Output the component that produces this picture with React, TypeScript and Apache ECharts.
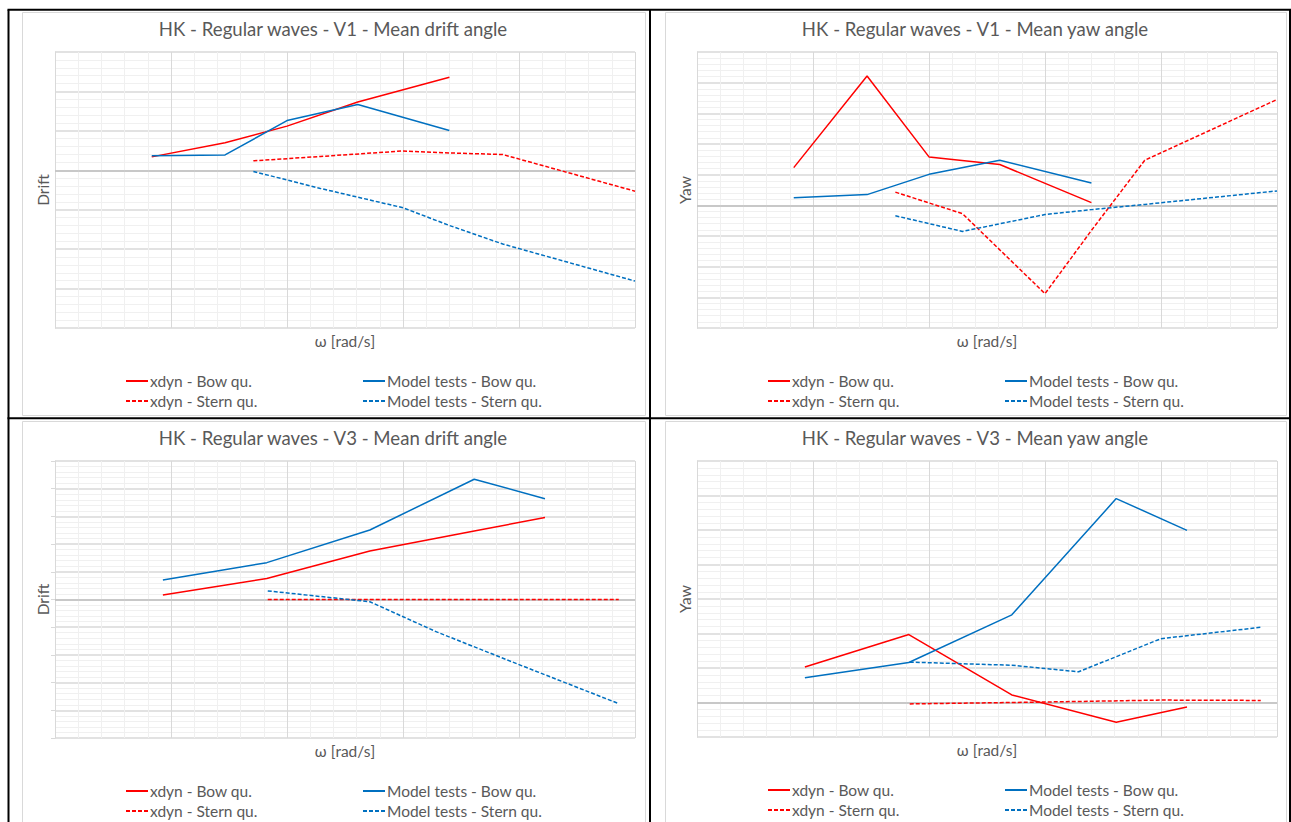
import React, { useEffect, useRef } from "react";
import * as echarts from "echarts";

const FONT = "Lato, 'Noto Sans', sans-serif";
const TEXT = "#595959";
const RED = "#FF0000";
const BLUE = "#0070C0";

const SERIES_NAMES = [
  "xdyn - Bow qu.",
  "Model tests - Bow qu.",
  "xdyn - Stern qu.",
  "Model tests - Stern qu.",
];

// Wave frequencies [rad/s]
const v1BowOmega = [0.417, 0.733, 1.0, 1.305, 1.7];
const v1SternOmega = [0.855, 1.144, 1.5, 1.7, 1.93, 2.5];
const v3BowOmega = [0.465, 0.913, 1.357, 1.807, 2.112];
const v3SternOmega = [0.917, 1.357, 1.645, 2.0, 2.43];

// V1 - mean drift angle [deg]
const v1DriftXdynBow = [0.34, 0.7, 1.12, 1.73, 2.36];
const v1DriftModelBow = [0.37, 0.39, 1.26, 1.67, 1.01];
const v1DriftXdynStern = [0.24, 0.35, 0.49, 0.44, 0.4, -0.53];
const v1DriftModelStern = [-0.03, -0.46, -0.95, -1.4, -1.87, -2.81];

// V1 - mean yaw angle [deg]
const v1YawXdynBow = [1.23, 4.22, 1.58, 1.33, 0.09];
const v1YawModelBow = [0.25, 0.35, 1.01, 1.47, 0.73];
const v1YawXdynStern = [0.43, -0.27, -2.88, -0.82, 1.47, 3.45];
const v1YawModelStern = [-0.34, -0.85, -0.3, -0.14, 0.03, 0.47];

// V3 - mean drift angle [deg]
const v3DriftXdynBow = [0.16, 0.76, 1.75, 2.47, 2.96];
const v3DriftModelBow = [0.7, 1.33, 2.51, 4.34, 3.64];
const v3DriftXdynStern = [0.0, 0.0, 0.0, 0.0, 0.0];
const v3DriftModelStern = [0.31, -0.08, -1.17, -2.35, -3.76];

// V3 - mean yaw angle [deg]
const v3YawXdynBow = [1.03, 1.97, 0.22, -0.57, -0.13];
const v3YawModelBow = [0.72, 1.16, 2.54, 5.91, 4.99];
const v3YawXdynStern = [-0.04, 0.0, 0.03, 0.07, 0.06];
const v3YawModelStern = [1.17, 1.08, 0.89, 1.85, 2.18];

const zip = (xs: number[], ys: number[]) => xs.map((x, i) => [x, ys[i]]);

type Panel = {
  title: string;
  yName: string;
  yMin: number;
  yMax: number;
  grid: { left: number; top: number; width: number; height: number };
  yTicks: boolean;
  legendTop: number;
  legendLeft: [number, number];
  bow: number[];
  stern: number[];
  values: [number[], number[], number[], number[]];
};

const panels: Panel[] = [
  {
    title: "HK - Regular waves - V1 - Mean drift angle",
    yName: "Drift",
    yMin: -4,
    yMax: 3,
    grid: { left: 55, top: 52, width: 580, height: 276 },
    yTicks: false,
    legendTop: 373,
    legendLeft: [125, 362],
    bow: v1BowOmega,
    stern: v1SternOmega,
    values: [v1DriftXdynBow, v1DriftModelBow, v1DriftXdynStern, v1DriftModelStern],
  },
  {
    title: "HK - Regular waves - V1 - Mean yaw angle",
    yName: "Yaw",
    yMin: -4,
    yMax: 5,
    grid: { left: 697, top: 52, width: 580, height: 276 },
    yTicks: false,
    legendTop: 373,
    legendLeft: [767, 1004],
    bow: v1BowOmega,
    stern: v1SternOmega,
    values: [v1YawXdynBow, v1YawModelBow, v1YawXdynStern, v1YawModelStern],
  },
  {
    title: "HK - Regular waves - V3 - Mean drift angle",
    yName: "Drift",
    yMin: -5,
    yMax: 5,
    grid: { left: 55, top: 461, width: 580, height: 277 },
    yTicks: true,
    legendTop: 783,
    legendLeft: [125, 362],
    bow: v3BowOmega,
    stern: v3SternOmega,
    values: [v3DriftXdynBow, v3DriftModelBow, v3DriftXdynStern, v3DriftModelStern],
  },
  {
    title: "HK - Regular waves - V3 - Mean yaw angle",
    yName: "Yaw",
    yMin: -1,
    yMax: 7,
    grid: { left: 697, top: 461, width: 580, height: 276 },
    yTicks: false,
    legendTop: 782,
    legendLeft: [767, 1004],
    bow: v3BowOmega,
    stern: v3SternOmega,
    values: [v3YawXdynBow, v3YawModelBow, v3YawXdynStern, v3YawModelStern],
  },
];

const gridLine = (color: string, width = 1) => ({ lineStyle: { color, width, type: "solid" } });

function buildOption() {
  const grid: any[] = [];
  const xAxis: any[] = [];
  const yAxis: any[] = [];
  const series: any[] = [];
  const legend: any[] = [];
  const graphic: any[] = [];

  // cell frames of the 2 x 2 table and the chart areas inside them
  const chartAreas = [
    [22, 12, 623, 403],
    [665, 12, 621, 403],
    [22, 421, 623, 410],
    [665, 421, 621, 410],
  ];
  chartAreas.forEach(([x, y, w, h]) =>
    graphic.push({
      type: "rect",
      shape: { x: x + 0.5, y: y + 0.5, width: w, height: h },
      style: { fill: "#fff", stroke: "#D9D9D9", lineWidth: 1 },
      z: -10,
      silent: true,
    })
  );
  const border = { stroke: "#000", lineWidth: 2 };
  [
    [8.5, 9.8, 8.5, 822],
    [650, 9.8, 650, 822],
    [1290, 9.8, 1290, 822],
    [7.5, 9.8, 1291, 9.8],
    [7.5, 418.3, 1291, 418.3],
  ].forEach(([x1, y1, x2, y2]) =>
    graphic.push({ type: "line", shape: { x1, y1, x2, y2 }, style: border, z: 100, silent: true })
  );

  panels.forEach((p, i) => {
    const g = p.grid;
    grid.push({ ...g, containLabel: false });

    graphic.push({
      type: "text",
      x: g.left + g.width / 2 - 12,
      y: g.top - 23,
      style: {
        text: p.title,
        fill: TEXT,
        font: `18.6px ${FONT}`,
        textAlign: "center",
        textVerticalAlign: "middle",
      },
      silent: true,
    });

    xAxis.push({
      type: "value",
      gridIndex: i,
      min: 0,
      max: 2.5,
      interval: 0.5,
      axisLabel: { show: false },
      axisTick: { show: false },
      axisLine: { show: false },
      splitLine: { show: true, ...gridLine("#D9D9D9") },
      minorTick: { show: false, splitNumber: 5 },
      minorSplitLine: { show: true, ...gridLine("#F0F0F0") },
      name: "ω [rad/s]",
      nameLocation: "middle",
      nameGap: 5,
      nameTextStyle: { color: TEXT, fontSize: 15.5, fontFamily: FONT, verticalAlign: "top" },
    });

    yAxis.push({
      type: "value",
      gridIndex: i,
      min: p.yMin,
      max: p.yMax,
      interval: 1,
      axisLabel: { show: false },
      axisTick: { show: p.yTicks, length: 4, lineStyle: { color: "#D9D9D9" } },
      axisLine: { show: true, onZero: false, lineStyle: { color: "#D9D9D9" } },
      splitLine: { show: true, ...gridLine("#D9D9D9", 1.5) },
      minorTick: { show: false, splitNumber: 5 },
      minorSplitLine: { show: true, ...gridLine("#F0F0F0") },
      name: p.yName,
      nameLocation: "middle",
      nameGap: 4,
      nameRotate: 90,
      nameTextStyle: { color: TEXT, fontSize: 15.5, fontFamily: FONT },
    });

    const styles = [
      { color: RED, type: "solid" },
      { color: BLUE, type: "solid" },
      { color: RED, type: [4, 2] },
      { color: BLUE, type: [4, 2] },
    ];
    SERIES_NAMES.forEach((name, k) => {
      const xs = k < 2 ? p.bow : p.stern;
      const s: any = {
        type: "line",
        name,
        xAxisIndex: i,
        yAxisIndex: i,
        data: zip(xs, p.values[k]),
        symbol: "none",
        showSymbol: false,
        silent: true,
        itemStyle: { color: styles[k].color },
        lineStyle: { color: styles[k].color, width: 1.5, type: styles[k].type },
        z: 3 + k,
      };
      if (k === 0) {
        // horizontal axis crossing at zero
        s.markLine = {
          silent: true,
          symbol: ["none", "none"],
          label: { show: false },
          lineStyle: { color: "#BFBFBF", width: 1.5, type: "solid" },
          data: [{ yAxis: 0 }],
          z: 1,
        };
      }
      series.push(s);
    });

    [0, 1].forEach((col) => {
      legend.push({
        orient: "vertical",
        left: p.legendLeft[col],
        top: p.legendTop,
        padding: 0,
        itemWidth: 22,
        itemHeight: 14,
        itemGap: 4,
        selectedMode: false,
        itemStyle: { opacity: 0 },
        lineStyle: { width: 2 },
        data: col === 0 ? [SERIES_NAMES[0], SERIES_NAMES[2]] : [SERIES_NAMES[1], SERIES_NAMES[3]],
        textStyle: {
          color: TEXT,
          fontSize: 15.5,
          fontFamily: FONT,
          padding: [0, 0, 0, -3],
        },
      });
    });
  });

  return {
    animation: false,
    backgroundColor: "#fff",
    textStyle: { fontFamily: FONT },
    grid,
    xAxis,
    yAxis,
    series,
    legend,
    graphic,
  };
}

export default function App() {
  const ref = useRef<HTMLDivElement>(null);
  useEffect(() => {
    if (!ref.current) return;
    const chart = echarts.init(ref.current, undefined, { renderer: "svg" });
    chart.setOption(buildOption() as any);
    return () => chart.dispose();
  }, []);
  return (
    <div
      ref={ref}
      style={{ position: "absolute", left: 0, top: 0, width: 1291, height: 822 }}
    />
  );
}
